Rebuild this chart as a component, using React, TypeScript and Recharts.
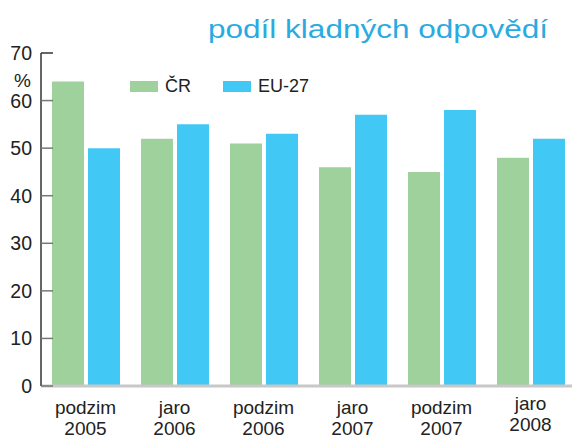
import React from 'react';
import { BarChart, Bar, XAxis, YAxis, Legend } from 'recharts';

const categories = ['podzim 2005', 'jaro 2006', 'podzim 2006', 'jaro 2007', 'podzim 2007', 'jaro 2008'];
const crValues = [64, 52, 51, 46, 45, 48];
const euValues = [50, 55, 53, 57, 58, 52];
const yTicks = [0, 10, 20, 30, 40, 50, 60, 70];
const seriesNames = ['ČR', 'EU-27'];
const title = 'podíl kladných odpovědí';
const unitLabel = '%';

const GREEN = '#9ed19b';
const BLUE = '#42c8f4';
const TITLE_BLUE = '#29abe2';
const FONT = '"Liberation Sans", Arial, Helvetica, sans-serif';

const data = categories.map((name, i) => ({ name, cr: crValues[i], eu: euValues[i] }));

const YTick = (props: any) => {
  const { x, y, payload } = props;
  return (
    <g>
      <line x1={x + 9} x2={x + 21} y1={y} y2={y} stroke={payload.value === 70 ? '#333' : '#777'} strokeWidth={1.5} />
      <text x={x} y={y + 7} textAnchor="end" fontSize={19.5} fill="#222" fontFamily={FONT}>
        {payload.value}
      </text>
    </g>
  );
};

const XTick = (props: any) => {
  const { x, y, payload, index } = props;
  const parts = String(payload.value).split(' ');
  const shift = index === categories.length - 1 ? -4 : 0;
  return (
    <g>
      <text x={x} y={y + 28 + shift} textAnchor="middle" fontSize={19} fill="#222" fontFamily={FONT}>
        {parts[0]}
      </text>
      <text x={x} y={y + 49 + shift} textAnchor="middle" fontSize={19} fill="#222" fontFamily={FONT}>
        {parts[1]}
      </text>
    </g>
  );
};

const LegendContent = () => (
  <div style={{ display: 'flex', alignItems: 'center', fontFamily: FONT, fontSize: 18, color: '#222' }}>
    <span style={{ display: 'inline-block', width: 28, height: 11, background: GREEN, marginRight: 7 }} />
    <span style={{ marginRight: 32, lineHeight: '20px' }}>{seriesNames[0]}</span>
    <span style={{ display: 'inline-block', width: 28, height: 11, background: BLUE, marginRight: 7 }} />
    <span style={{ lineHeight: '20px' }}>{seriesNames[1]}</span>
  </div>
);

const UnitLabel = (props: any) => {
  const { viewBox } = props;
  return (
    <text x={viewBox.x + viewBox.width - 10} y={viewBox.y + 34} textAnchor="end" fontSize={19} fill="#222" fontFamily={FONT}>
      {unitLabel}
    </text>
  );
};

export default function App() {
  return (
    <div style={{ position: 'absolute', left: 0, top: 0, width: 572, height: 439, overflow: 'hidden', background: '#fff' }}>
      <BarChart
        width={580}
        height={439}
        data={data}
        margin={{ top: 53, right: 5, bottom: 0, left: 0 }}
        barGap={4}
      >
        <XAxis
          dataKey="name"
          height={53}
          interval={0}
          tickLine={false}
          tickSize={0}
          tickMargin={0}
          axisLine={{ stroke: '#c8c8c8', strokeWidth: 3 }}
          tick={<XTick />}
        />
        <YAxis
          width={41}
          domain={[0, 70]}
          ticks={yTicks}
          interval={0}
          tickLine={false}
          tickSize={0}
          tickMargin={9}
          axisLine={{ stroke: '#333', strokeWidth: 1.5 }}
          tick={<YTick />}
          label={<UnitLabel />}
        />
        <Legend
          layout="vertical"
          align="center"
          verticalAlign="middle"
          wrapperStyle={{ left: 130, top: 76, width: 220, height: 20 }}
          content={<LegendContent />}
        />
        <Bar dataKey="cr" name={seriesNames[0]} fill={GREEN} barSize={32} isAnimationActive={false} />
        <Bar dataKey="eu" name={seriesNames[1]} fill={BLUE} barSize={32} isAnimationActive={false} />
      </BarChart>
      <svg width={572} height={50} style={{ position: 'absolute', left: 0, top: 0, pointerEvents: 'none' }}>
        <text x={208} y={38} fontSize={25} fill={TITLE_BLUE} fontFamily={FONT} textLength={340} lengthAdjust="spacingAndGlyphs">
          {title}
        </text>
      </svg>
    </div>
  );
}
